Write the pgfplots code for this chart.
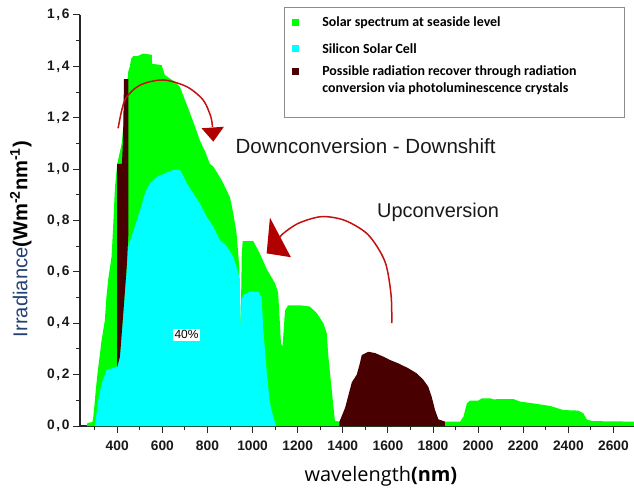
\documentclass[border=0pt]{standalone}
\usepackage{fontspec}
\setmainfont{Liberation Sans}
\newfontfamily\carlito{Carlito}
\newfontfamily\opensans{Open Sans}
\usepackage{pgfplots}
\usepackage{pgfplotstable}
\pgfplotsset{compat=1.18}

\definecolor{solargreen}{RGB}{0,255,0}
\definecolor{sicyan}{RGB}{0,255,255}
\definecolor{recoverbrown}{RGB}{72,0,0}
\definecolor{arrowred}{RGB}{196,16,16}
\definecolor{headred}{RGB}{176,0,0}
\definecolor{labelblue}{RGB}{34,66,118}

% AM1.5-like solar spectrum at sea level (nm, W m^-2 nm^-1)
\pgfplotstableread{
x y
265 0
268 0.012
290 0.015
294 0.036
300 0.09
305 0.14
312 0.20
320 0.257
331 0.335
345 0.41
352 0.50
360 0.57
375 0.66
382 0.776
390 0.93
400 1.02
420 1.10
449 1.38
456 1.40
462 1.43
471 1.44
490 1.44
515 1.45
553 1.445
555 1.41
597 1.405
611 1.366
656 1.34
678 1.32
700 1.27
722 1.22
745 1.165
767 1.11
789 1.07
811 1.02
826 1.01
863 0.957
900 0.89
914 0.83
929 0.75
941 0.62
947 0.36
952 0.66
956 0.72
1003 0.72
1033 0.67
1063 0.61
1100 0.555
1113 0.52
1118 0.45
1126 0.32
1133 0.31
1140 0.40
1144 0.45
1158 0.47
1210 0.47
1254 0.465
1284 0.44
1314 0.40
1329 0.36
1336 0.27
1351 0.14
1365 0.02
1385 0.017
1860 0.017
1920 0.017
1935 0.036
1950 0.088
1964 0.099
2001 0.099
2016 0.108
2053 0.108
2067 0.104
2156 0.105
2186 0.095
2260 0.086
2319 0.078
2378 0.062
2444 0.06
2467 0.049
2481 0.026
2504 0.019
2691 0.017
}\solardata

% Part of the spectrum used by a silicon cell
\pgfplotstableread{
x y
301 0
305 0.03
316 0.10
331 0.166
353 0.218
397 0.23
412 0.27
427 0.44
442 0.607
449 0.70
478 0.776
501 0.84
523 0.906
545 0.945
575 0.97
611 0.984
648 0.997
678 0.997
695 0.97
708 0.945
737 0.906
767 0.865
796 0.815
826 0.776
855 0.724
885 0.70
914 0.66
937 0.594
944 0.57
947 0.36
951 0.49
959 0.51
988 0.523
1025 0.523
1040 0.50
1048 0.37
1063 0.206
1077 0.088
1092 0.036
1104 0
}\silicondata

% Recoverable band in the near infrared
\pgfplotstableread{
x y
1385 0.017
1388 0.023
1410 0.07
1440 0.17
1462 0.20
1476 0.245
1484 0.276
1513 0.289
1543 0.284
1580 0.27
1609 0.257
1646 0.244
1690 0.225
1728 0.205
1757 0.18
1779 0.153
1794 0.114
1809 0.062
1824 0.026
1853 0.017
}\nirdata

% Recoverable band in the near ultraviolet / blue
\pgfplotstableread{
x y
400 0.23
400 1.02
421 1.02
426 1.12
430 1.35
449 1.35
449 0.74
442 0.62
427 0.44
412 0.27
}\uvdata

\begin{document}
\begin{tikzpicture}
\begin{axis}[
  scale only axis, width=554bp, height=411bp,
  xmin=235, xmax=2691, ymin=0, ymax=1.6,
  axis x line*=bottom, axis y line*=left,
  axis line style={line width=1.1bp, black!85},
  tick align=outside,
  major tick length=7bp, minor tick length=4bp,
  tick style={line width=1bp, black!85},
  xtick={400,600,800,1000,1200,1400,1600,1800,2000,2200,2400,2600},
  minor xtick={300,500,700,900,1100,1300,1500,1700,1900,2100,2300,2500,2700},
  ytick={0,0.2,0.4,0.6,0.8,1.0,1.2,1.4,1.6},
  minor ytick={0.1,0.3,0.5,0.7,0.9,1.1,1.3,1.5},
  scaled ticks=false,
  /pgf/number format/assume math mode=true,
  xticklabel style={/pgf/number format/1000 sep={}, yshift=-4bp},
  yticklabel style={/pgf/number format/.cd, fixed, fixed zerofill, precision=1,
    set decimal separator={\hspace{1.6bp},\hspace{1.6bp}}},
  ticklabel style={font=\fontsize{13.8}{16}\selectfont\bfseries, text=black!90},
  clip=false,
  legend image code/.code={\fill[#1] (0bp,0.8bp) rectangle (7bp,7.8bp); \path (30.2bp,0bp);},
  legend style={at={(rel axis cs:0.3682,1.0195)}, anchor=north west,
    draw=black!45, line width=1.2bp, fill=white,
    inner xsep=7.5bp, inner ysep=9bp,
    font=\carlito\bfseries\fontsize{14}{16}\selectfont,
    /tikz/column sep=0bp, /tikz/row sep=10bp,
    nodes={inner sep=0bp, text height=10bp, text depth=3bp},
    cells={anchor=base west}},
]
\addplot[fill=solargreen, draw=none] table {\solardata} \closedcycle;
\addlegendentry{Solar spectrum at seaside level}
\addplot[fill=sicyan, draw=none] table {\silicondata} \closedcycle;
\addlegendentry[text height=13.5bp]{Silicon Solar Cell}
\addplot[fill=recoverbrown, draw=none] table {\nirdata} \closedcycle;
\addlegendentry[text height=9.5bp]{Possible radiation recover through radiation}
\addlegendimage{empty legend}
\addlegendentry[text height=3.5bp]{conversion via photoluminescence crystals}
\addlegendimage{empty legend}
\addlegendentry[text height=0bp, text depth=3.5bp, minimum width=294.8bp]{}
\addplot[fill=recoverbrown, draw=none, forget plot] table {\uvdata} -- cycle;

% down-conversion arrow
\addplot[arrowred, line width=1.5bp, smooth, forget plot] coordinates {
  (404,1.159) (434,1.269) (501,1.327) (604,1.347) (708,1.321)
  (781,1.269) (815,1.204) (822,1.164)};
\addplot[fill=headred, draw=none, forget plot] coordinates {
  (774,1.159) (873,1.165) (826,1.107)} -- cycle;

% up-conversion arrow
\addplot[arrowred, line width=1.5bp, smooth, forget plot] coordinates {
  (1617,0.40) (1614,0.51) (1587,0.64) (1513,0.744) (1410,0.80)
  (1306,0.815) (1203,0.789) (1129,0.744) (1112,0.715)};
\addplot[fill=headred, draw=none, forget plot] coordinates {
  (1077,0.811) (1062.5,0.672) (1170,0.657)} -- cycle;

\node[anchor=base west, font=\fontsize{20.6}{24}\selectfont, text=black!90]
  at (axis cs:909,1.059) {Downconversion - Downshift};
\node[anchor=base west, font=\fontsize{20}{24}\selectfont, text=black!90]
  at (axis cs:1537,0.8135) {Upconversion};
\node[fill=white, inner sep=1.5bp, font=\fontsize{12}{14}\selectfont]
  at (axis cs:707,0.355) {40\%};

\node[anchor=base, font=\fontsize{20}{24}\selectfont]
  at (axis cs:1569,-0.218) {{\opensans wavelength}{\opensans\bfseries (nm)}};
\node[rotate=90, anchor=center, font=\fontsize{20.2}{24}\selectfont]
  at (axis cs:-27,0.728)
  {{\color{labelblue}Irradiance}\textbf{(Wm\textsuperscript{-2}nm\textsuperscript{-1})}};
\end{axis}
\pgfresetboundingbox
\path[use as bounding box] (-80bp,-63bp) rectangle (554bp,426bp);
\end{tikzpicture}
\end{document}
